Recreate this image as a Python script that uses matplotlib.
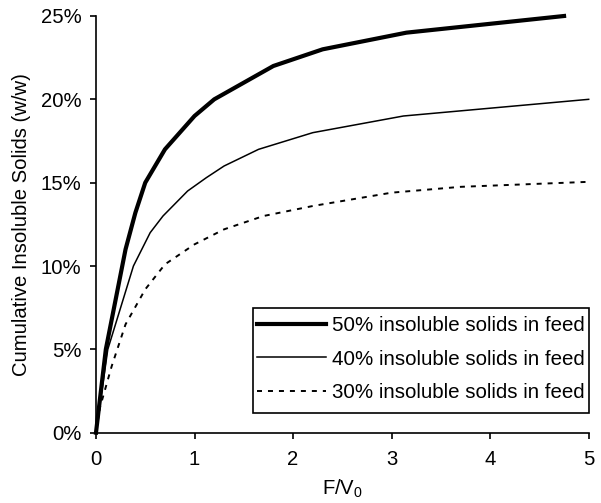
import matplotlib
matplotlib.use("Agg")
import matplotlib.pyplot as plt
from matplotlib.path import Path
from matplotlib.ticker import PercentFormatter

plt.rcParams['font.family'] = ['Liberation Sans', 'DejaVu Sans']
plt.rcParams['lines.scale_dashes'] = False

# Data (F/V0 vs cumulative insoluble solids, %)
x50 = [0, 0.1, 0.3, 0.4, 0.5, 0.7, 1.0, 1.2, 1.5, 1.8, 2.3, 3.15, 4.75]
y50 = [0, 5.0, 11.0, 13.2, 15.0, 17.0, 19.0, 20.0, 21.0, 22.0, 23.0, 24.0, 25.0]

x40 = [0, 0.12, 0.38, 0.55, 0.68, 0.93, 1.12, 1.3, 1.65, 2.2, 3.12, 5.0]
y40 = [0, 5.0, 10.0, 12.0, 13.0, 14.5, 15.3, 16.0, 17.0, 18.0, 19.0, 20.0]

x30 = [0, 0.04, 0.16, 0.3, 0.5, 0.7, 1.0, 1.3, 1.7, 2.2, 3.0, 3.7, 5.0]
y30 = [0, 1.5, 4.0, 6.5, 8.6, 10.1, 11.3, 12.2, 13.0, 13.6, 14.4, 14.75, 15.05]

labels = ["50% insoluble solids in feed",
          "40% insoluble solids in feed",
          "30% insoluble solids in feed"]


class VPadBox:
    """Square box with extra vertical padding (in font-size units)."""
    def __init__(self, top, bottom):
        self.top = top
        self.bottom = bottom

    def __call__(self, x0, y0, width, height, mutation_size):
        t = self.top * mutation_size
        b = self.bottom * mutation_size
        verts = [(x0, y0 - b), (x0 + width, y0 - b), (x0 + width, y0 + height + t),
                 (x0, y0 + height + t), (x0, y0 - b)]
        return Path(verts, closed=True)


fig = plt.figure(figsize=(6.01, 5.03), dpi=100)
ax = fig.add_axes([0.1597, 0.1398, 0.9795 - 0.1597, 0.9682 - 0.1398])

ax.plot(x50, y50, color='black', lw=3.0, label=labels[0], clip_on=False, solid_joinstyle='round')
ax.plot(x40, y40, color='black', lw=1.1, label=labels[1], clip_on=False)
ax.plot(x30, y30, color='black', lw=1.4, linestyle=(0, (3.6, 4.3)), label=labels[2], clip_on=False)

ax.set_xlim(0, 5)
ax.set_ylim(0, 25)
ax.set_xticks([0, 1, 2, 3, 4, 5])
ax.set_yticks([0, 5, 10, 15, 20, 25])
ax.yaxis.set_major_formatter(PercentFormatter(100, decimals=0))

for s in ['top', 'right']:
    ax.spines[s].set_visible(False)
for s in ['left', 'bottom']:
    ax.spines[s].set_linewidth(1.2)
    ax.spines[s].set_color('black')

ax.tick_params(axis='both', direction='out', length=4.5, width=1.2, labelsize=14.6, colors='black')
ax.tick_params(axis='x', pad=8)
ax.tick_params(axis='y', pad=6)

ax.set_xlabel("F/V$_\\mathregular{0}$", fontsize=14.6, labelpad=6)
ax.set_ylabel("Cumulative Insoluble Solids (w/w)", fontsize=14.6, labelpad=7)

leg = ax.legend(loc='lower right', bbox_to_anchor=(1.0, 0.065), borderaxespad=0,
                fontsize=14.8, frameon=True, fancybox=False, framealpha=1,
                edgecolor='black', handlelength=3.4, handletextpad=0.28,
                borderpad=0.18, labelspacing=0.7)
leg.get_frame().set_linewidth(1.2)
leg.get_frame().set_boxstyle(VPadBox(0.23, 0.34))

fig.savefig("out.png", dpi=100)
